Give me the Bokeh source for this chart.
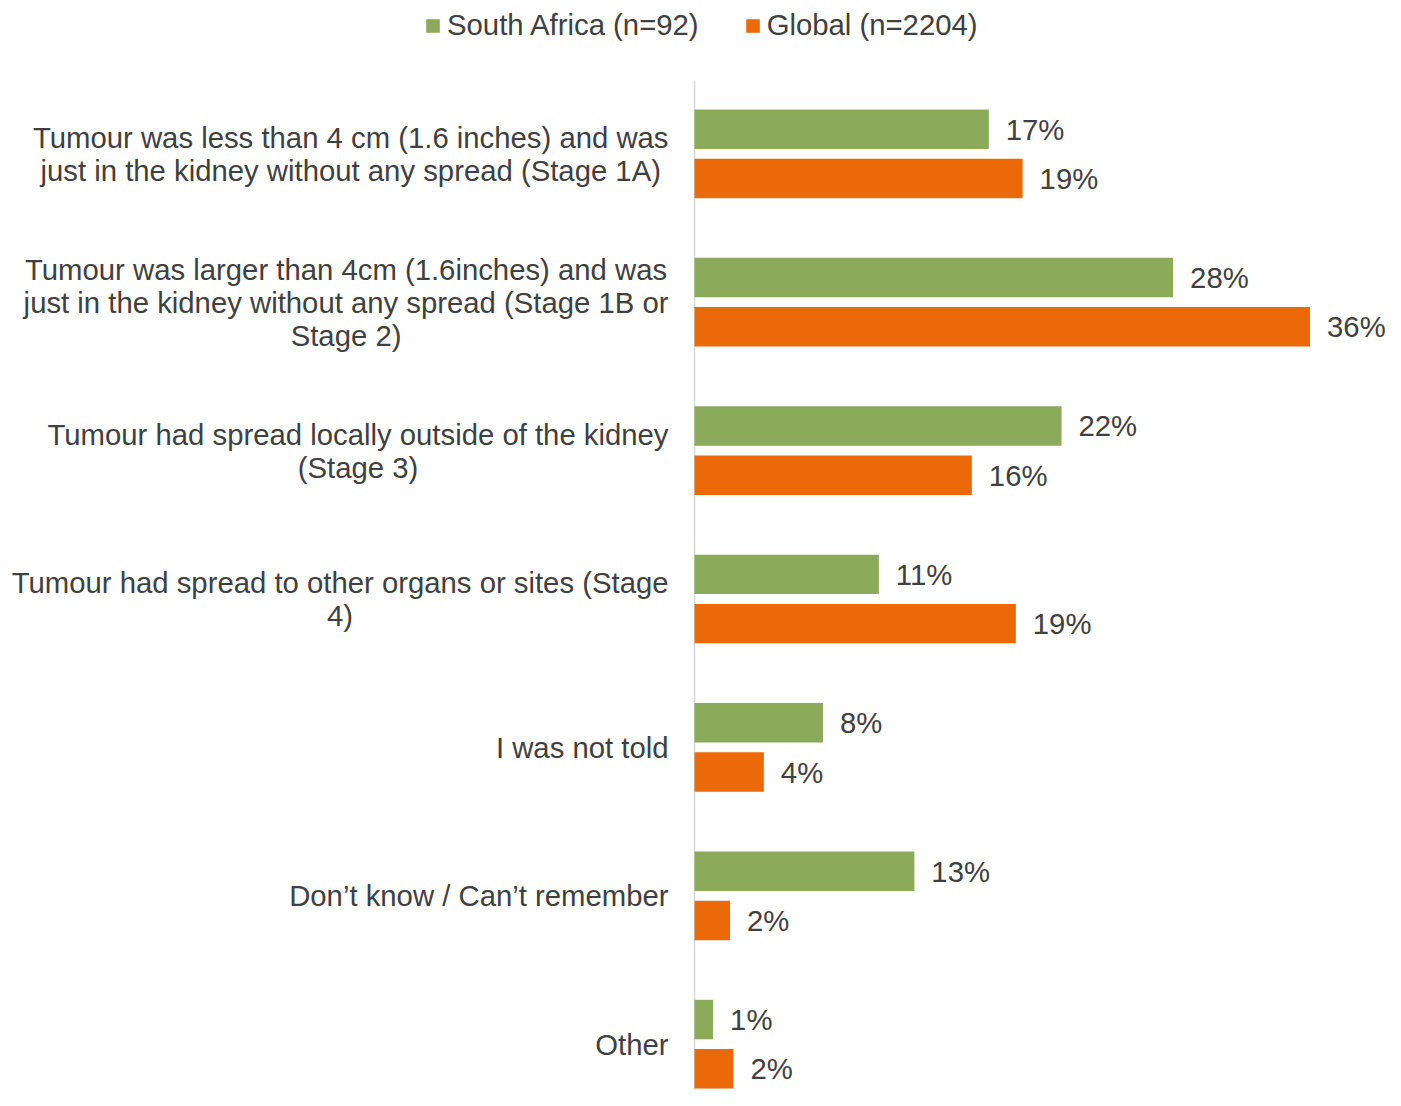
from bokeh.plotting import figure
from bokeh.models import ColumnDataSource, Range1d, Legend, LegendItem
from bokeh.embed import file_html
from bokeh.resources import INLINE
from bokeh.core.properties import value

categories = [
    "Tumour was less than 4 cm (1.6 inches) and was\njust in the kidney without any spread (Stage 1A)",
    "Tumour was larger than 4cm (1.6inches) and was\njust in the kidney without any spread (Stage 1B or\nStage 2)",
    "Tumour had spread locally outside of the kidney\n(Stage 3)",
    "Tumour had spread to other organs or sites (Stage\n4)",
    "I was not told",
    "Don\u2019t know / Can\u2019t remember",
    "Other",
]
series_names = ["South Africa (n=92)", "Global (n=2204)"]
south_africa = [17.4, 28.3, 21.7, 10.9, 7.6, 13.0, 1.1]
global_all = [19.4, 36.4, 16.4, 19.0, 4.1, 2.1, 2.3]

GREEN = "#8BAA5A"
ORANGE = "#EB6909"
TEXT = "#404040"
FONT = "Liberation Sans"
FS = "29.3px"

idx = list(range(len(categories)))
off = 0.166
bar_h = 0.266

sa_src = ColumnDataSource(dict(
    y=[i - off for i in idx], v=south_africa,
    lab=[f"{round(v)}%" for v in south_africa]))
gl_src = ColumnDataSource(dict(
    y=[i + off for i in idx], v=global_all,
    lab=[f"{round(v)}%" for v in global_all]))
cat_src = ColumnDataSource(dict(x=[0] * len(idx), y=idx, t=categories))

p = figure(width=1385, height=1090, output_backend="svg", toolbar_location=None,
           x_range=Range1d(-41.04, 40.86), y_range=Range1d(6.312, -1.033),
           x_axis_location=None, y_axis_location=None,
           min_border_left=0, min_border_right=0, min_border_bottom=0,
           min_border_top=0)
p.grid.visible = False
p.outline_line_color = None
p.background_fill_color = "white"

# vertical category-axis line
p.segment(x0=[0], y0=[-0.494], x1=[0], y1=[6.6], line_color="#d9d9d9", line_width=1.6)

r_sa = p.hbar(y="y", left=0, right="v", height=bar_h, source=sa_src,
              fill_color=GREEN, line_color=None)
r_gl = p.hbar(y="y", left=0, right="v", height=bar_h, source=gl_src,
              fill_color=ORANGE, line_color=None)

for src in (sa_src, gl_src):
    p.text(x="v", y="y", text="lab", source=src, x_offset=17,
           text_align="left", text_baseline="middle",
           text_font=value(FONT), text_font_size=FS, text_color=TEXT)

p.text(x="x", y="y", text="t", source=cat_src, x_offset=-26,
       anchor="center_right", text_align="center", text_baseline="middle",
       text_font=value(FONT), text_font_size=FS, text_color=TEXT,
       text_line_height=1.0)

legend = Legend(items=[LegendItem(label=series_names[0], renderers=[r_sa]),
                       LegendItem(label=series_names[1], renderers=[r_gl])],
                orientation="horizontal", location=(424, 1048),
                label_text_font=FONT, label_text_font_size=FS,
                label_text_color=TEXT, glyph_width=17, glyph_height=17,
                label_standoff=6, spacing=45, border_line_color=None,
                background_fill_alpha=0, padding=0, margin=0)
p.add_layout(legend)

open("out.html", "w").write(file_html(p, INLINE))
